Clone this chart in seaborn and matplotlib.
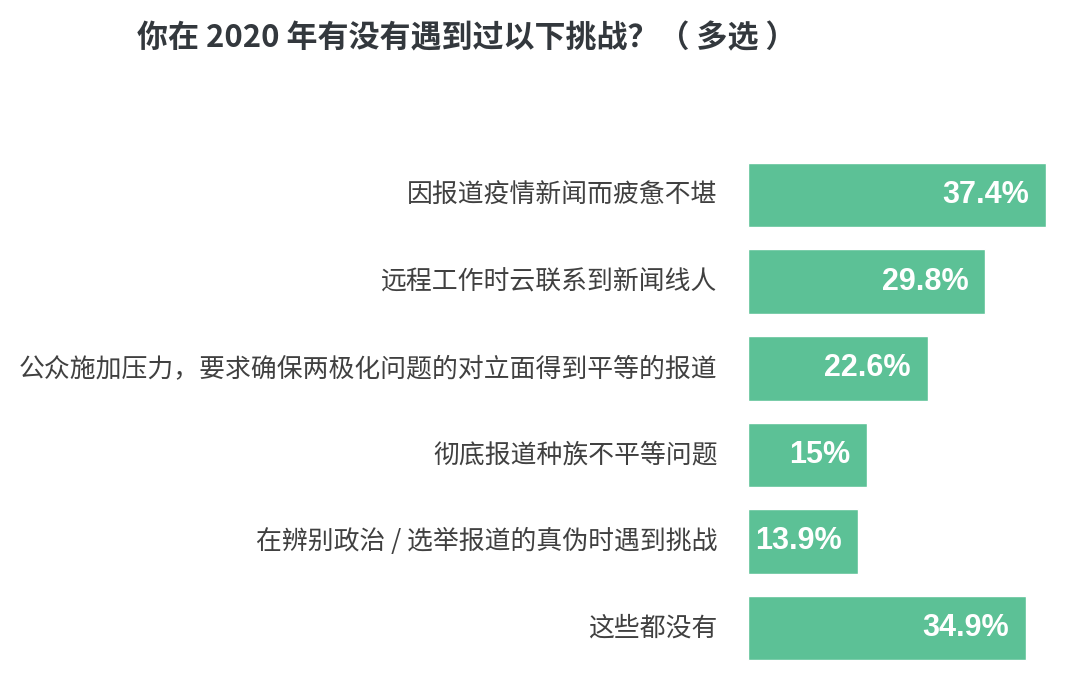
"""
Horizontal bar chart: challenges journalists faced in 2020 (multiple choice)
"""
import matplotlib
matplotlib.use("Agg")
import matplotlib.pyplot as plt
import seaborn as sns
import pandas as pd

# data
challenges = [
    "因报道疫情新闻而疲惫不堪",
    "远程工作时云联系到新闻线人",
    "公众施加压力，要求确保两极化问题的对立面得到平等的报道",
    "彻底报道种族不平等问题",
    "在辨别政治 / 选举报道的真伪时遇到挑战",
    "这些都没有",
]
shares = [37.4, 29.8, 22.6, 15, 13.9, 34.9]
share_labels = ["37.4%", "29.8%", "22.6%", "15%", "13.9%", "34.9%"]
title = "你在 2020 年有没有遇到过以下挑战？（ 多选 ）"

df = pd.DataFrame({"challenge": challenges, "share": shares})

sns.set_theme(style="white")
plt.rcParams["font.family"] = ["Noto Sans CJK SC", "DejaVu Sans"]

fig = plt.figure(figsize=(10.8, 6.73), dpi=100)
ax = fig.add_axes([747.5 / 1080, 0.0025, 332.5 / 1080, 0.7721])

green = "#5cc196"
sns.barplot(data=df, x="share", y="challenge", color=green, saturation=1,
            width=0.746, ax=ax)

ax.set_xlim(0, 37.4 * 332.5 / 298)
ax.set_ylim(5.5, -0.5)
ax.set_xlabel("")
ax.set_ylabel("")
ax.set_xticks([])
ax.set_yticks([])
for s in ax.spines.values():
    s.set_visible(False)

# category labels to the left of the bars
for i, name in enumerate(challenges):
    ax.annotate(name, (0, i), xytext=(-21.5, 0), textcoords="offset points",
                ha="right", va="center", fontsize=18.6, color="#404040")

# value labels inside the bars
for i, (v, lab) in enumerate(zip(shares, share_labels)):
    ax.annotate(lab, (v, i), xytext=(-12, 0), textcoords="offset points",
                ha="right", va="center", fontsize=22, fontweight="bold",
                color="white", family=["Liberation Sans", "DejaVu Sans"])

fig.text(137 / 1080, 1 - 38 / 673, title, ha="left", va="center",
         fontsize=22.3, fontweight="bold", color="#33383d")

fig.savefig("out.png", dpi=100)
